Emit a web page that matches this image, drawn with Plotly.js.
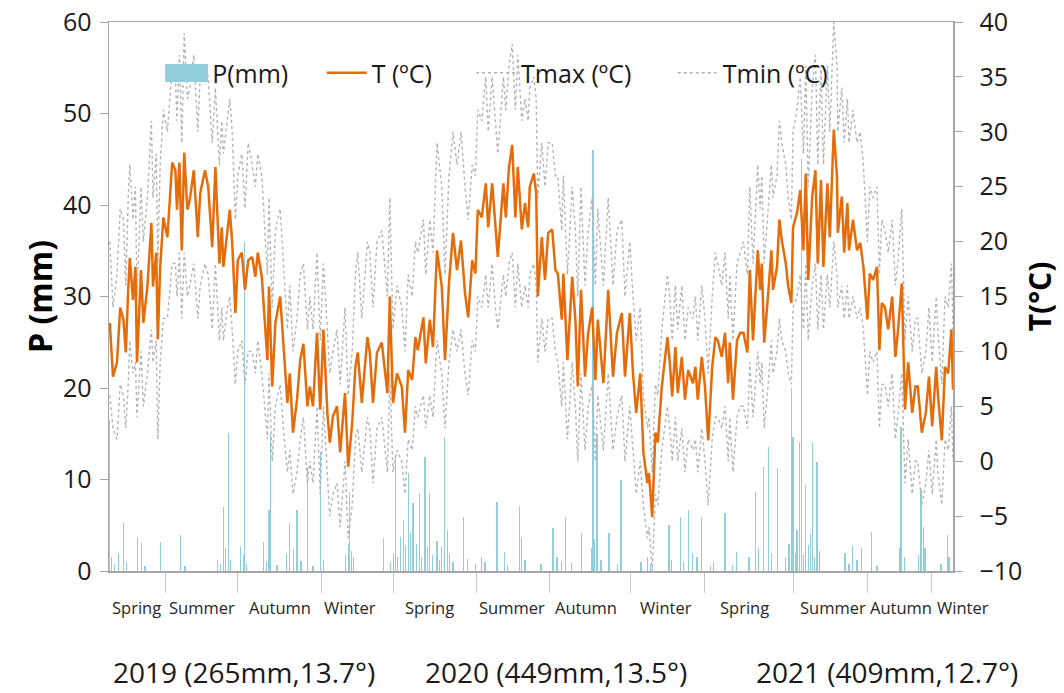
<!DOCTYPE html>
<html>
<head>
<meta charset="utf-8">
<script src="https://cdn.plot.ly/plotly-3.0.1.min.js"></script>
<style>html,body{margin:0;padding:0;background:#fff;}#chart{width:1064px;height:693px;}</style>
</head>
<body>
<div id="chart"></div>
<script>
// day index from start of record (spring 2019)
const days = [
 1,5,10,14,18,21,24,26,30,33,35,40,43,48,53,55,59,61,64,68,
 73,79,83,85,88,91,94,98,101,106,111,114,120,124,129,133,138,141,143,148,151,154,158,
 161,166,170,174,179,183,186,191,198,200,204,208,214,218,223,226,230,235,239,243,248,251,255,260,264,
 268,273,276,280,285,289,295,299,304,308,311,316,323,326,330,335,341,348,
 351,355,360,366,370,374,379,383,386,393,396,401,405,410,416,420,425,430,435,440,445,449,
 454,458,461,466,471,474,479,483,486,493,496,500,504,508,511,516,520,524,526,531,534,536,541,545,549,
 554,558,561,566,568,573,579,583,586,590,595,599,604,608,611,618,624,630,635,641,645,651,655,659,664,
 668,673,675,679,683,686,691,698,701,704,708,711,716,720,724,730,733,736,741,745,
 749,754,758,761,766,770,774,776,780,785,789,793,798,801,805,811,814,816,819,824,828,830,835,838,841,846,849,853,
 855,860,864,868,871,874,879,883,886,890,893,898,901,906,910,911,916,919,923,925,930,935,939,943,
 948,951,955,960,963,966,970,974,979,983,986,991,995,999,1004,1008,1011,1016,1021,1025,1029,1034,1036,1041,1045,1049,1053,1055
];
const T = [
 12.6,7.7,9.0,14.0,12.9,9.9,15.6,18.5,14.7,17.7,9.0,17.4,12.6,15.9,21.7,15.9,19.0,11.1,17.7,22.2,
 20.4,27.2,26.5,22.9,27.2,19.2,28.1,22.9,23.8,26.5,20.4,24.4,26.5,25.0,19.5,26.8,18.0,21.3,17.7,21.1,22.9,19.9,13.5,
 18.3,19.0,15.6,18.3,18.6,16.8,19.0,16.8,9.2,15.9,6.8,12.6,15.0,10.4,5.3,8.0,2.6,5.6,9.2,10.7,5.0,6.8,5.0,11.7,4.7,
 12.0,4.4,1.7,4.1,5.0,0.8,6.2,-0.5,3.5,8.6,9.9,5.3,11.3,9.9,5.3,9.9,10.8,6.2,
 15.0,5.3,8.0,6.8,2.6,8.3,7.4,11.3,10.1,13.1,8.9,12.9,10.4,19.2,15.9,9.2,16.2,20.8,17.4,20.1,15.3,13.1,
 18.3,17.1,22.9,22.2,25.3,21.3,25.3,21.3,18.6,25.3,22.2,26.8,28.8,22.2,26.8,21.1,23.5,21.3,25.0,26.2,24.4,15.0,20.4,16.5,20.8,
 21.1,17.4,17.1,12.9,17.1,9.2,16.8,12.9,6.8,15.6,7.7,11.7,14.0,7.4,12.9,7.1,15.6,7.7,11.7,13.5,7.7,13.5,8.0,4.4,8.0,
 0.8,-2.0,-1.1,-5.1,2.6,1.7,6.8,11.3,9.0,5.9,10.4,6.2,9.5,5.6,8.3,7.1,8.6,5.6,9.5,6.8,
 1.9,8.6,11.3,11.0,9.5,11.7,7.1,10.8,5.6,11.0,11.7,11.7,9.9,17.4,11.0,19.2,15.6,18.0,10.8,15.3,19.2,15.6,17.7,22.0,20.1,18.0,15.9,14.4,
 21.3,22.6,24.7,19.2,26.2,16.5,24.1,26.5,18.0,25.6,17.7,25.3,20.4,30.2,25.9,20.8,24.1,19.0,23.5,19.2,22.0,19.2,19.9,17.7,
 12.9,17.1,16.5,17.7,10.1,14.4,14.0,12.0,15.0,9.5,11.7,16.2,4.7,9.0,4.4,6.8,6.8,2.6,4.4,7.7,3.2,8.6,6.2,1.9,8.6,8.0,12.0,6.5
];
const Tmax = [
 20,14,17,23,22,16,24,27,22,25,15,25,20,24,31,24,28,18,27,32,
 30,36,35,31,37,29,39,33,34,37,30,35,36,35,29,34,27,31,28,31,33,30,22,
 26,28,23,29,27,25,28,26,17,24,14,21,23,18,12,16,10,13,17,18,12,15,12,19,11,
 18,11,8,10,12,7,14,6,10,17,19,13,20,19,14,20,21,15,
 24,12,16,14,10,17,15,20,19,22,17,22,19,29,25,17,26,30,27,30,25,22,
 27,26,32,31,35,30,35,31,28,35,32,36,38,32,37,31,33,31,34,35,33,24,29,25,29,
 29,26,26,21,26,17,25,21,15,25,16,21,24,16,23,16,24,16,21,22,15,20,15,11,14,
 6,3,4,-1,7,6,12,17,15,11,16,12,16,11,14,13,15,11,16,13,
 8,15,19,18,16,19,13,17,11,18,19,20,17,25,18,27,23,26,18,23,27,24,26,31,29,27,24,22,
 30,32,35,28,36,25,34,37,27,36,27,36,30,40,36,30,34,29,33,29,32,29,30,27,
 20,25,24,25,17,22,21,19,22,16,18,23,11,15,10,13,13,8,10,14,9,15,12,7,15,14,18,12
];
const Tmin = [
 6,3,2,7,6,3,7,11,8,9,4,10,5,8,12,9,11,2,9,13,
 13,18,18,15,19,13,19,15,16,18,13,16,18,17,12,18,11,14,11,14,15,12,7,
 10,11,7,10,10,8,11,8,2,8,0,5,7,3,-1,1,-3,-1,2,4,-2,0,-2,5,-3,
 5,-2,-5,-3,-2,-6,0,-7,-4,2,3,-1,4,3,-2,3,4,-1,
 8,-1,1,0,-3,2,1,5,4,6,3,6,4,11,8,3,9,12,10,12,8,6,
 11,10,15,14,17,14,18,14,12,17,15,18,19,14,18,14,16,14,17,18,16,9,13,10,13,
 13,10,9,5,9,2,9,5,0,8,1,5,7,0,6,1,8,1,4,6,0,5,1,-3,0,
 -4,-7,-6,-10,-3,-4,1,5,3,0,4,0,3,-1,2,1,2,-1,3,0,
 -4,2,4,4,3,5,0,4,-1,4,5,5,3,9,4,10,7,9,3,7,11,8,10,13,11,10,8,7,
 14,15,17,12,18,11,16,18,12,17,12,17,14,20,17,14,16,13,16,13,15,13,14,12,
 6,10,9,10,3,7,7,5,8,2,4,8,-2,2,-3,0,0,-4,-2,1,-3,2,-1,-4,2,1,5,0
];
// daily precipitation events (day index, mm)
const P_day = [
 1,18,36,41,64,89,136,143,149,164,169,193,200,202,226,235,248,264,301,343,
 358,364,368,374,380,388,395,401,416,419,423,443,466,485,494,513,516,555,571,591,
 605,610,625,640,673,700,714,724,741,756,770,784,808,818,824,836,853,855,863,866,
 871,879,885,920,929,941,953,990,991,1015,1018,1048,
 3,7,12,22,45,95,139,146,152,168,172,197,210,222,231,240,255,268,296,299,
 303,306,352,356,361,371,377,384,391,398,404,410,413,426,430,448,458,470,498,520,
 540,560,566,578,603,607,615,636,665,677,703,718,729,735,752,779,800,812,828,846,
 850,858,860,868,874,877,882,888,925,935,960,988,994,1012,1020,1040,1050
];
const P_mm = [
 16.5,5.3,3.7,3.1,3.2,3.9,1.2,7.0,15.1,2.6,36,3.2,6.7,15,5.3,6.7,11.4,13,8.5,3.6,
 12.5,3.7,5.6,10.7,7.4,8.5,12.5,8.5,2.6,14.6,4.5,5.9,1.5,7.5,2.1,7.1,3.7,4.7,5.9,4.2,
 46,15,4.2,9.9,1.5,5.0,5.9,6.7,5.9,1.0,6.3,2.1,8.6,11.4,13.6,11.3,20,14.6,14.1,45,
 9.4,14,11.9,2.0,2.7,2.5,4.3,15.7,7.2,8.9,4.8,3.9,
 1.5,0.8,2.0,1.0,0.6,0.5,0.8,2.5,1.2,1.8,0.8,1.0,0.7,1.9,2.4,1.1,0.6,1.2,1.8,3.0,
 2.2,1.5,1.0,2.0,1.5,2.8,4.2,3.0,1.5,2.6,1.8,3.3,1.2,2.0,1.0,1.3,0.8,1.0,0.7,1.2,
 0.8,1.5,1.1,0.9,2.5,3.5,1.2,0.8,1.0,0.8,1.2,1.0,2.0,1.5,0.6,0.7,1.5,2.5,2.0,1.5,
 3.0,2.0,4.5,1.8,2.8,4.0,1.5,2.2,0.8,1.2,0.6,2.5,1.5,1.8,2.5,0.8,1.5
];
// season boundaries (day index) and season / year labels
const dayRange = [0,1055];
const seasonBounds = [70,161,265,356,459,550,652,744,856,948,1028];
const seasonPos = [34,116,214,301,400,504,596,696,794,905,990,1068];
const seasonNames = ['Spring','Summer','Autumn','Winter','Spring','Summer','Autumn','Winter','Spring','Summer','Autumn','Winter'];
const yearPos = [169,559,972];
const yearLabels = ['2019 (265mm,13.7°)','2020 (449mm,13.5°)','2021 (409mm,12.7°)'];

const FONT = 'Open Sans, Noto Sans, sans-serif';
const pColor = '#92cddc';
const tColor = '#e46c0a';
const grey = '#b3b3b3';

const traces = [
 {type:'bar', x:P_day, y:P_mm, width:1.3, marker:{color:pColor, line:{width:0}}, name:'P(mm)', showlegend:false, xaxis:'x', yaxis:'y'},
 {type:'scatter', mode:'lines', x:[null], y:[null], name:'P(mm)', line:{color:pColor, width:18}, legend:'legend', xaxis:'x', yaxis:'y'},
 {type:'scatter', mode:'lines', x:days, y:Tmax, name:'Tmax (ºC)', line:{color:grey, width:1.4, dash:'dot'}, legend:'legend3', yaxis:'y2'},
 {type:'scatter', mode:'lines', x:days, y:Tmin, name:'Tmin (ºC)', line:{color:grey, width:1.4, dash:'dot'}, legend:'legend4', yaxis:'y2'},
 {type:'scatter', mode:'lines', x:days, y:T, name:'T (ºC)', line:{color:tColor, width:2.5}, legend:'legend2', yaxis:'y2'}
];

const span = dayRange[1]-dayRange[0];
const annotations = [];
seasonNames.forEach((s,i)=>annotations.push({x:(seasonPos[i]-dayRange[0])/span, xref:'paper', y:-0.067, yref:'paper', text:s, showarrow:false, font:{family:FONT, size:16.5, color:'#262626'}, xanchor:'center', yanchor:'middle'}));
yearLabels.forEach((s,i)=>annotations.push({x:(yearPos[i]-dayRange[0])/span, xref:'paper', y:-0.184, yref:'paper', text:s, showarrow:false, font:{family:FONT, size:28, color:'#1a1a1a'}, xanchor:'center', yanchor:'middle'}));

const legBase = {orientation:'h', y:0.907, yanchor:'middle', xanchor:'left', bgcolor:'rgba(0,0,0,0)', borderwidth:0, itemwidth:40, font:{family:FONT, size:25, color:'#1a1a1a'}};
const layout = {
 width:1064, height:693,
 margin:{l:109, r:111, t:22, b:122},
 paper_bgcolor:'#fff', plot_bgcolor:'#fff',
 font:{family:FONT, color:'#1a1a1a'},
 bargap:0,
 xaxis:{range:dayRange, showline:true, linecolor:'#a6a6a6', linewidth:1.5, mirror:true, tickmode:'array', tickvals:seasonBounds, ticks:'outside', ticklen:20, tickcolor:'#c8c8c8', tickwidth:1, showticklabels:false, showgrid:false, zeroline:false},
 yaxis:{range:[0,60], dtick:10, tick0:0, showline:true, linecolor:'#a6a6a6', linewidth:1.5, ticks:'outside', ticklen:8, tickcolor:'#a6a6a6', ticklabelstandoff:3, tickfont:{family:FONT, size:25, color:'#1a1a1a'}, showgrid:false, zeroline:false,
   title:{text:'P (mm)', font:{family:FONT, size:32, weight:'bold', color:'#000'}, standoff:0}},
 yaxis2:{range:[-10,40], dtick:5, tick0:0, overlaying:'y', side:'right', showline:true, linecolor:'#a6a6a6', linewidth:1.5, ticks:'outside', ticklen:8, tickcolor:'#a6a6a6', ticklabelstandoff:12, tickfont:{family:FONT, size:25, color:'#1a1a1a'}, showgrid:false, zeroline:false,
   title:{text:'T(°C)', font:{family:FONT, size:30, weight:'bold', color:'#000'}, standoff:8}},
 legend: Object.assign({}, legBase, {x:0.063}),
 legend2: Object.assign({}, legBase, {x:0.252}),
 legend3: Object.assign({}, legBase, {x:0.429}),
 legend4: Object.assign({}, legBase, {x:0.668}),
 shapes: [
  // legend patch for P(mm), drawn taller than Plotly's capped line symbol
  {type:'rect', xref:'paper', yref:'paper', x0:0.0664, x1:0.1173, y0:0.8907, y1:0.9235, fillcolor:pColor, line:{width:0}, layer:'above'}
 ],
 annotations: annotations,
 showlegend:true
};
Plotly.newPlot('chart', traces, layout, {displayModeBar:false, staticPlot:true});
</script>
</body>
</html>
